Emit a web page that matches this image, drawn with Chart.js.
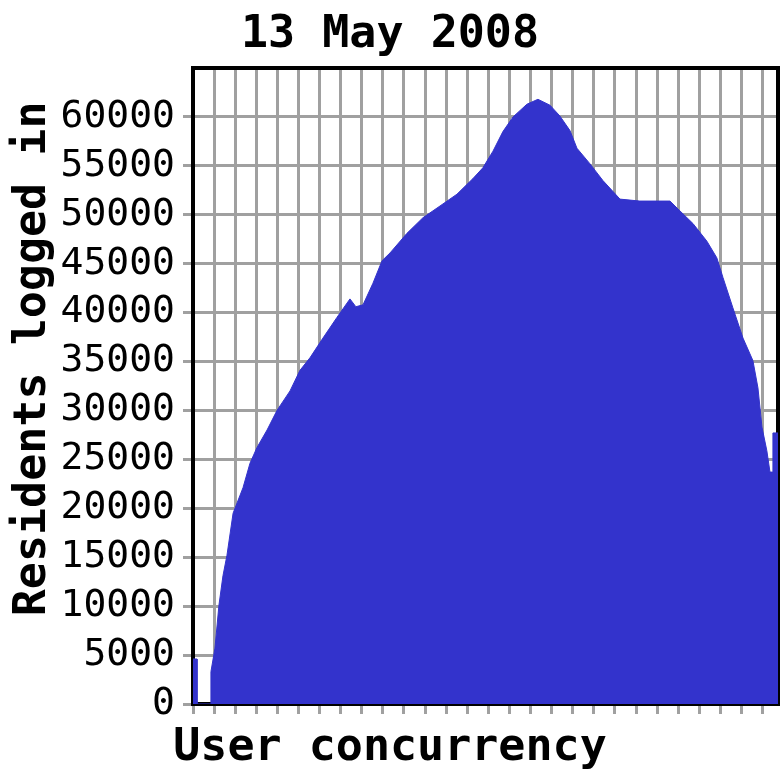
<!DOCTYPE html>
<html>
<head>
<meta charset="utf-8">
<script src="https://cdn.jsdelivr.net/npm/chart.js@4.4.1/dist/chart.umd.min.js"></script>
<style>
html, body { margin: 0; padding: 0; background: #fff; }
#chart { display: block; }
</style>
</head>
<body>
<canvas id="chart" width="780" height="780"></canvas>
<script>
const chartTitle = '13 May 2008';
const xTitle = 'User concurrency';
// two leading spaces push the rotated label up a little, as in the original
const yTitle = '  Residents logged in';

// x in grid intervals (one per vertical grid line), y = residents logged in
const xs = [0.00, 0.19, 0.19, 0.85, 0.85, 1.04, 1.23, 1.42, 1.61, 1.90,
            2.37, 2.70, 3.03, 3.51, 3.98, 4.60, 5.07, 5.55, 6.16, 6.82,
            7.44, 7.72, 8.06, 8.53, 8.96, 9.34, 10.14, 10.90, 11.71, 12.51,
            13.27, 13.74, 14.22, 14.69, 15.17, 15.83, 16.35, 16.92, 17.39, 17.87,
            18.20, 18.82, 19.43, 20.24, 21.18, 22.61, 23.08, 23.70, 24.36, 24.83,
            25.12, 25.59, 26.07, 26.54, 26.78, 26.97, 27.20, 27.35, 27.49, 27.49, 27.73];
const ys = [4600, 4600, 0, 0, 3300, 5700, 10100, 13100, 15200, 19500,
            22100, 24600, 26200, 28000, 30000, 32000, 34100, 35400, 37400, 39500,
            41400, 40600, 40800, 43000, 45300, 46100, 48100, 49700, 50900, 52100,
            53700, 54800, 56500, 58500, 60000, 61300, 61800, 61200, 60100, 58600,
            56800, 55200, 53500, 51600, 51400, 51400, 50400, 49100, 47300, 45600,
            43600, 40500, 37400, 35100, 32300, 28300, 25900, 23700, 23700, 27700, 27700];

const yStep = 5000;
const yMax = 65000;
const yLastLabel = 60000;
const xMax = 27.73;

const monoFont = "'DejaVu Sans Mono', 'Liberation Mono', monospace";
const gridColor = '#a0a0a0';
const fillColor = '#3333cc';

const points = xs.map((x, i) => ({ x: x, y: ys[i] }));

Chart.defaults.color = '#000';
Chart.defaults.font.family = monoFont;

const ctx = document.getElementById('chart').getContext('2d');
new Chart(ctx, {
    type: 'line',
    data: {
        datasets: [{
            data: points,
            borderColor: fillColor,
            backgroundColor: fillColor,
            borderWidth: 1,
            pointRadius: 0,
            tension: 0,
            fill: 'origin'
        }]
    },
    options: {
        responsive: false,
        devicePixelRatio: 1,
        animation: false,
        layout: { padding: 0 },
        plugins: {
            legend: { display: false },
            tooltip: { enabled: false },
            title: {
                display: true,
                text: chartTitle,
                font: { size: 45, weight: 'bold', family: monoFont },
                padding: { top: 8, bottom: 6 }
            },
            subtitle: {
                display: true,
                position: 'bottom',
                text: xTitle,
                font: { size: 45, weight: 'bold', family: monoFont },
                padding: { top: 0, bottom: 5 }
            }
        },
        scales: {
            x: {
                type: 'linear',
                min: 0,
                max: xMax,
                ticks: { display: false, stepSize: 1, includeBounds: false },
                grid: { color: gridColor, lineWidth: 3, tickLength: 10, tickColor: gridColor },
                border: { color: '#000', width: 4 },
                afterFit: s => { s.height = 17; }
            },
            xTop: {
                type: 'linear',
                position: 'top',
                min: 0,
                max: xMax,
                ticks: { display: false },
                grid: { display: false, drawTicks: false },
                border: { color: '#000', width: 4 },
                afterFit: s => { s.height = 0; }
            },
            y: {
                min: 0,
                max: yMax,
                ticks: {
                    stepSize: yStep,
                    padding: 8,
                    font: { size: 38, family: monoFont },
                    callback: v => (v > yLastLabel ? '' : String(v))
                },
                grid: {
                    color: gridColor,
                    lineWidth: 3,
                    tickLength: 10,
                    tickColor: c => (c.tick && c.tick.value > yLastLabel ? 'rgba(0,0,0,0)' : gridColor)
                },
                border: { color: '#000', width: 4 },
                title: {
                    display: true,
                    text: yTitle,
                    font: { size: 45, weight: 'bold', family: monoFont },
                    padding: { top: 6, bottom: 0 }
                },
                afterFit: s => { s.width = 193; }
            },
            yRight: {
                position: 'right',
                min: 0,
                max: yMax,
                ticks: { display: false },
                grid: { display: false, drawTicks: false },
                border: { color: '#000', width: 4 },
                afterFit: s => { s.width = 2; }
            }
        }
    }
});
</script>
</body>
</html>
